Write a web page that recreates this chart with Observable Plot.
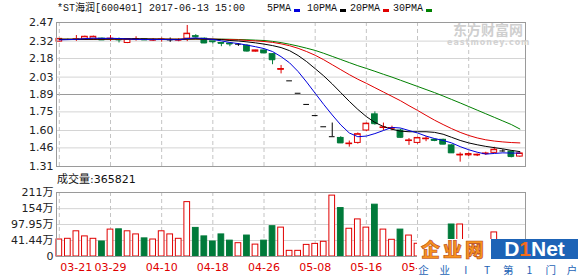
<!DOCTYPE html>
<html><head><meta charset="utf-8">
<script src="https://cdn.jsdelivr.net/npm/d3@7"></script>
<script src="https://cdn.jsdelivr.net/npm/@observablehq/plot@0.6"></script>
<style>
body{margin:0;background:#fff;}
#wrap{position:relative;width:578px;height:276px;overflow:hidden;font-family:"DejaVu Sans","Noto Sans CJK SC",sans-serif;color:#222;}
.abs{position:absolute;white-space:nowrap;}
.mono{font-family:"Liberation Mono","Noto Sans CJK SC",monospace;font-size:10px;line-height:12px;color:#111;}
.sq{position:absolute;width:6px;height:3px;}
</style></head><body>
<div id="wrap">
  <div id="price" class="abs" style="left:0;top:0"></div>
  <div id="vol" class="abs" style="left:0;top:176px"></div>
  <div class="abs mono" style="left:57px;top:3px">*ST海润[600401] 2017-06-13 15:00</div>
  <div id="legend"></div>
  <div class="abs" style="left:57px;top:173px;font-size:11px;line-height:14px;color:#111">成交量:<span id="lastvol"></span></div>
  <div class="abs" style="left:453px;top:22px;font-size:14px;line-height:14px;height:14px;font-weight:bold;color:#cfcfcf;font-family:'Noto Sans CJK SC'">东方财富网</div>
  <div class="abs" style="left:447px;top:39px;font-size:8px;line-height:8px;font-weight:bold;color:#d2d2d2;letter-spacing:1px">eastmoney.com</div>
  <div class="abs" style="left:417px;top:239px;width:161px;height:37px;background:#fff">
    <div class="abs" style="left:0;top:0;width:74px;height:20px;font-family:'Noto Sans CJK SC';font-weight:900;font-size:19px;line-height:20px;color:#f7931e;-webkit-text-stroke:0.6px #b4441a;letter-spacing:3px;text-align:center">企业网</div>
    <div class="abs" style="left:74px;top:0;width:87px;height:20px;background:#1d63b6;font-family:'Liberation Sans';font-weight:bold;font-size:21px;line-height:20px;color:#fff;text-align:center">D<span style="color:#f26b1d">1</span>Net</div>
    <div class="abs" id="slogan" style="left:0;top:24px;width:161px;height:13px;font-family:'Noto Sans CJK SC';font-size:10.5px;line-height:13px;color:#1d63b6"></div>
  </div>
</div>
<script>
// ---- data ----
const gridIdx = [0, 6, 12, 18, 24, 30, 36, 42, 48];
const tickIdx = [0, 6, 12, 18, 24, 30, 36, 42];
const tickLabels = ["03-21","03-29","04-10","04-18","04-26","05-08","05-16","05-24"];
const priceTicks = [2.47, 2.32, 2.18, 2.03, 1.89, 1.75, 1.60, 1.46, 1.31];
const volTickVals = [211, 154, 97.95, 41.44, -15];
const volTickLabels = ["211万","154万","97.95万","41.44万","0"];
const lastVolume = "365821";

const open = [2.316,2.333,2.330,2.330,2.330,2.340,2.335,2.335,2.305,2.330,2.335,2.325,2.330,2.330,2.325,2.340,2.360,2.340,2.318,2.305,2.300,2.295,2.283,2.235,2.245,2.215,2.090,2.000,1.900,1.810,1.720,1.630,1.550,1.540,1.490,1.500,1.600,1.730,1.620,1.615,1.600,1.515,1.500,1.530,1.525,1.525,1.480,1.400,1.400,1.400,1.410,1.420,1.435,1.430,1.390];
const high = [2.340,2.336,2.365,2.360,2.360,2.345,2.365,2.345,2.340,2.355,2.340,2.340,2.345,2.345,2.340,2.446,2.372,2.345,2.318,2.305,2.302,2.300,2.290,2.246,2.248,2.220,2.124,2.000,1.900,1.810,1.720,1.630,1.660,1.550,1.515,1.580,1.660,1.750,1.660,1.635,1.610,1.535,1.545,1.550,1.530,1.530,1.485,1.420,1.420,1.410,1.425,1.465,1.445,1.435,1.420];
const low = [2.314,2.330,2.318,2.326,2.325,2.328,2.318,2.305,2.300,2.320,2.325,2.318,2.312,2.310,2.315,2.316,2.345,2.300,2.298,2.275,2.275,2.278,2.232,2.232,2.222,2.130,2.056,2.000,1.900,1.810,1.720,1.630,1.550,1.495,1.466,1.490,1.590,1.643,1.600,1.598,1.540,1.480,1.490,1.510,1.510,1.485,1.415,1.345,1.390,1.390,1.400,1.415,1.425,1.380,1.385];
const close = [2.338,2.333,2.335,2.355,2.355,2.330,2.340,2.330,2.335,2.335,2.330,2.330,2.333,2.330,2.330,2.380,2.355,2.305,2.315,2.302,2.297,2.295,2.240,2.245,2.225,2.170,2.095,2.000,1.900,1.810,1.720,1.630,1.550,1.500,1.495,1.570,1.655,1.655,1.625,1.620,1.545,1.520,1.540,1.535,1.520,1.490,1.420,1.405,1.410,1.405,1.415,1.445,1.435,1.390,1.415];
const volume = [45,47.5,74,56,47.5,38,80,81,74,63,49,45,74,63,47.5,177,86,56,38,63,41,32,59,27,41,92,87,5,5,26,29.5,37,200,156,83,116,87,168,80,44,80,59,30,28,25,32,98,98,30,26,28,70,27,30,36.58];
const ma5 = [2.330,2.332,2.334,2.340,2.344,2.342,2.343,2.341,2.337,2.334,2.333,2.332,2.333,2.332,2.331,2.341,2.346,2.340,2.333,2.322,2.309,2.300,2.288,2.275,2.260,2.236,2.195,2.145,2.075,1.990,1.900,1.810,1.725,1.645,1.580,1.550,1.555,1.575,1.600,1.625,1.620,1.600,1.580,1.555,1.535,1.520,1.500,1.470,1.445,1.425,1.410,1.415,1.420,1.418,1.418];
const ma10 = [2.334,2.334,2.334,2.335,2.336,2.336,2.337,2.338,2.338,2.338,2.337,2.336,2.335,2.334,2.333,2.337,2.339,2.337,2.335,2.332,2.325,2.321,2.314,2.306,2.296,2.284,2.268,2.243,2.204,2.155,2.098,2.040,1.975,1.905,1.835,1.770,1.712,1.665,1.632,1.610,1.595,1.590,1.590,1.590,1.585,1.570,1.545,1.520,1.500,1.485,1.472,1.462,1.452,1.440,1.430];
const ma20 = [2.335,2.335,2.335,2.336,2.336,2.336,2.336,2.336,2.336,2.336,2.336,2.336,2.336,2.336,2.335,2.337,2.338,2.337,2.336,2.334,2.332,2.330,2.326,2.322,2.317,2.310,2.298,2.283,2.262,2.236,2.206,2.170,2.130,2.090,2.050,2.013,1.980,1.945,1.910,1.875,1.840,1.800,1.762,1.722,1.683,1.648,1.615,1.585,1.560,1.540,1.525,1.515,1.508,1.503,1.500];
const ma30 = [2.336,2.336,2.336,2.336,2.336,2.336,2.336,2.336,2.336,2.336,2.336,2.336,2.336,2.336,2.336,2.336,2.336,2.336,2.336,2.336,2.335,2.333,2.331,2.328,2.325,2.318,2.308,2.295,2.280,2.263,2.245,2.222,2.197,2.172,2.147,2.122,2.100,2.077,2.053,2.030,2.005,1.980,1.955,1.930,1.905,1.878,1.850,1.822,1.793,1.764,1.735,1.706,1.677,1.648,1.612];
const maNames = ["5PMA","10PMA","20PMA","30PMA"];
const maColors = ["#0000dd","#000000","#e00000","#008000"];
const sloganChars = ["企","业","I","T","第","1","门","户"];

// ---- build ----
const RED = "#e00000", GREEN = "#007a3a";
const idx = d3.range(open.length);
const rows = idx.map(i => ({i, o: open[i], h: high[i], l: low[i], c: close[i], v: volume[i]}));
const col = d => d.c > d.o ? RED : d.c < d.o ? GREEN : "#000";
const volCol = d => d.c < d.o ? GREEN : RED;
const X = {domain: [-0.33, 54.66], axis: null};
const HW = 0.335;
const font = "'DejaVu Sans','Noto Sans CJK SC',sans-serif";
const mas = [ma30, ma20, ma10, ma5];
const masCol = [maColors[3], maColors[2], maColors[1], maColors[0]];

const price = Plot.plot({
  width: 578, height: 176, marginLeft: 56, marginRight: 53, marginTop: 22, marginBottom: 10,
  x: X,
  y: {domain: [1.31, 2.47], axis: null},
  style: {fontFamily: font, fontSize: "11px", color: "#222", background: "transparent"},
  marks: [
    Plot.ruleY(priceTicks.filter(t => t !== 1.89), {stroke: "#d4d4d4"}),
    Plot.ruleY([1.89], {stroke: "#9a9a9a"}),
    Plot.ruleX(gridIdx, {stroke: "#c4c4c4", strokeDasharray: "4,3"}),
    Plot.ruleX(rows, {x: "i", y1: "l", y2: "h", stroke: col}),
    Plot.rect(rows, {x1: d => d.i - HW, x2: d => d.i + HW, y1: "o", y2: "c",
      fill: d => d.c > d.o ? "#fff" : col(d), stroke: col}),
    Plot.ruleY(rows, {x1: d => d.i - HW, x2: d => d.i + HW, y: "c", stroke: col}),
    ...mas.map((m, k) => Plot.line(idx, {x: i => i, y: i => m[i], stroke: masCol[k], strokeWidth: 1})),
    Plot.frame({stroke: "#9a9a9a"}),
    Plot.axisY(priceTicks, {tickSize: 0, tickPadding: 3, tickFormat: d => d.toFixed(2), label: null, fontSize: 11})
  ]
});
document.getElementById("price").appendChild(price);

const volLabelMap = new Map(volTickVals.map((v, k) => [v, volTickLabels[k]]));
const tickMap = new Map(tickIdx.map((v, k) => [v, tickLabels[k]]));
const vmin = volTickVals[volTickVals.length - 1];
const vol = Plot.plot({
  width: 578, height: 100, marginLeft: 56, marginRight: 53, marginTop: 16, marginBottom: 20,
  x: X,
  y: {domain: [vmin, volTickVals[0]], axis: null},
  style: {fontFamily: font, fontSize: "11px", color: "#222", background: "transparent"},
  marks: [
    Plot.ruleY(volTickVals.slice(1, -1), {stroke: "#d4d4d4"}),
    Plot.ruleX(gridIdx, {stroke: "#c4c4c4", strokeDasharray: "4,3"}),
    Plot.rect(rows, {x1: d => d.i - HW, x2: d => d.i + HW, y1: vmin, y2: "v",
      fill: d => d.c < d.o ? GREEN : "#fff", stroke: volCol}),
    Plot.frame({stroke: "#9a9a9a"}),
    Plot.axisY(volTickVals, {tickSize: 0, tickPadding: 3, tickFormat: d => volLabelMap.get(d), label: null, fontSize: 11}),
    Plot.text(tickIdx.slice(0, 1), {x: d => d, y: vmin, dy: 11, dx: 1, text: d => tickMap.get(d), fill: RED, fontSize: 11, textAnchor: "start"}),
    Plot.text(tickIdx.slice(1), {x: d => d, y: vmin, dy: 11, text: d => tickMap.get(d), fill: RED, fontSize: 11, textAnchor: "middle"})
  ]
});
document.getElementById("vol").appendChild(vol);

document.getElementById("lastvol").textContent = lastVolume;

// legend
const legPos = [267, 307, 350, 393];
const leg = document.getElementById("legend");
maNames.forEach((n, k) => {
  const t = document.createElement("div");
  t.className = "abs mono"; t.style.left = legPos[k] + "px"; t.style.top = "3px"; t.textContent = n;
  leg.appendChild(t);
  const s = document.createElement("div");
  s.className = "sq"; s.style.left = (legPos[k] + n.length * 6 + 3) + "px"; s.style.top = "9px";
  s.style.background = maColors[k];
  leg.appendChild(s);
});
// slogan
const sl = document.getElementById("slogan");
sloganChars.forEach((c, k) => {
  const s = document.createElement("span");
  s.className = "abs"; s.style.left = (1 + k * 21.2) + "px"; s.style.width = "11px"; s.style.textAlign = "center";
  s.textContent = c; sl.appendChild(s);
});
</script>
</body></html>
